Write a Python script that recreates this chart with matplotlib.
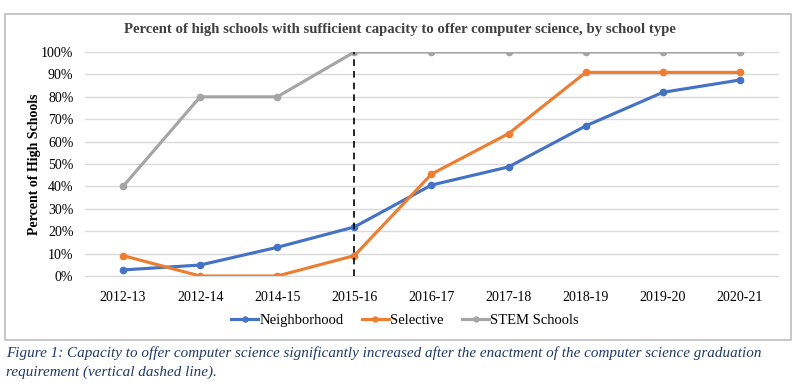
import matplotlib
matplotlib.use('Agg')
import matplotlib.pyplot as plt
from matplotlib.patches import Rectangle

plt.rcParams['font.family'] = ['Liberation Serif', 'DejaVu Serif']

years = ['2012-13', '2012-14', '2014-15', '2015-16', '2016-17', '2017-18', '2018-19', '2019-20', '2020-21']
neighborhood = [2.7, 4.9, 12.8, 21.9, 40.6, 48.7, 67.0, 82.0, 87.5]
selective = [9.1, 0, 0, 9.1, 45.5, 63.6, 90.9, 90.9, 90.9]
stem = [40, 80, 80, 100, 100, 100, 100, 100, 100]

fig = plt.figure(figsize=(8, 3.87), dpi=100)

# chart frame
fig.patches.append(Rectangle((5/800, 1-340/387), 786/800, 326/387, transform=fig.transFigure,
                             fill=False, edgecolor='#BFBFBF', linewidth=1.2))

ax = fig.add_axes([84.5/800, 1-276/387, 694/800, 224/387])
x = range(len(years))
ax.plot(x, neighborhood, color='#4472C4', lw=2.25, marker='o', ms=4.5, label='Neighborhood')
ax.plot(x, selective, color='#ED7D31', lw=2.25, marker='o', ms=4.5, label='Selective')
ax.plot(x, stem, color='#A5A5A5', lw=2.25, marker='o', ms=4.5, label='STEM Schools')
ax.axvline(3, color='black', lw=1.2, ls=(0, (4, 3)), zorder=4)

ax.set_xlim(-0.5, len(years) - 0.5)
ax.set_ylim(0, 100)
ax.set_yticks(range(0, 101, 10))
ax.set_yticklabels([f'{v}%' for v in range(0, 101, 10)], fontsize=10)
ax.set_xticks(list(x))
ax.set_xticklabels(years, fontsize=10)
ax.tick_params(axis='y', length=0, pad=8)
ax.tick_params(axis='x', length=0, pad=11)
ax.grid(axis='y', color='#D9D9D9', lw=1)
ax.set_axisbelow(True)
for s in ['top', 'right', 'left']:
    ax.spines[s].set_visible(False)
ax.spines['bottom'].set_color('#D9D9D9')
ax.set_ylabel('Percent of High Schools', fontsize=10, fontweight='bold', labelpad=0)

fig.text(0.5, 1-30/387, 'Percent of high schools with sufficient capacity to offer computer science, by school type',
         ha='center', va='center', fontsize=10.6, fontweight='bold', color='#404040')

ax.legend(loc='center', bbox_to_anchor=(0.462, (276-320)/224), ncol=3, frameon=False, fontsize=10.5,
          handlelength=1.8, columnspacing=1.3, handletextpad=0.1, markerscale=0.8)

fig.text(6/800, 1-353/387, 'Figure 1: Capacity to offer computer science significantly increased after the enactment of the computer science graduation',
         ha='left', va='center', fontsize=10.9, style='italic', color='#1F3864')
fig.text(6/800, 1-372/387, 'requirement (vertical dashed line).',
         ha='left', va='center', fontsize=10.9, style='italic', color='#1F3864')

fig.savefig('out.png', dpi=100)
